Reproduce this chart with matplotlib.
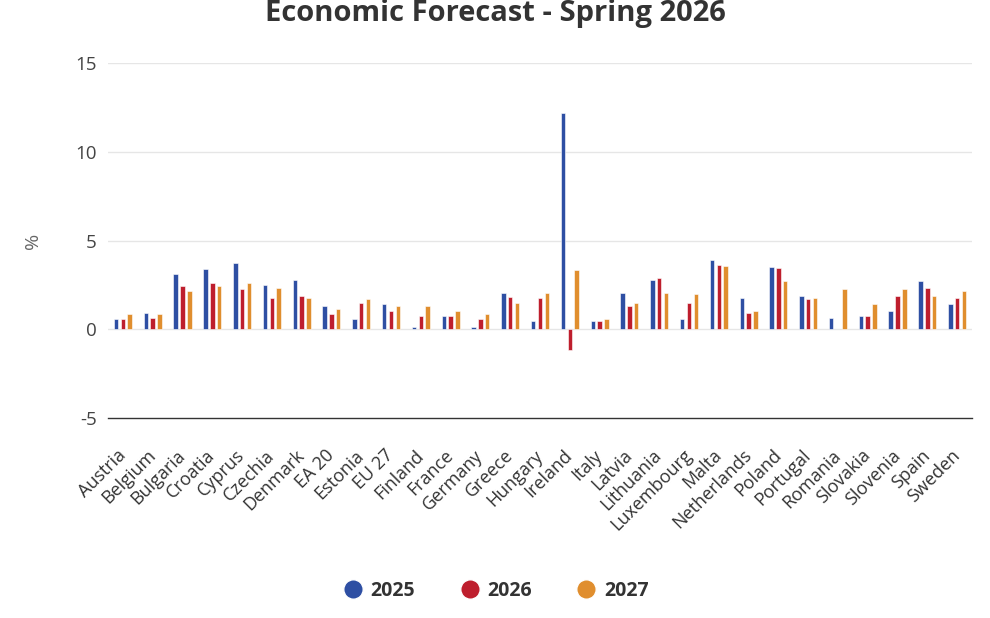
import numpy as np
import matplotlib
matplotlib.use("Agg")
import matplotlib.pyplot as plt
from matplotlib.lines import Line2D

plt.rcParams['font.family'] = ['Open Sans', 'DejaVu Sans']

countries = ["Austria", "Belgium", "Bulgaria", "Croatia", "Cyprus", "Czechia", "Denmark",
             "EA 20", "Estonia", "EU 27", "Finland", "France", "Germany", "Greece",
             "Hungary", "Ireland", "Italy", "Latvia", "Lithuania", "Luxembourg", "Malta",
             "Netherlands", "Poland", "Portugal", "Romania", "Slovakia", "Slovenia",
             "Spain", "Sweden"]
y2025 = [0.56, 0.94, 3.1, 3.37, 3.75, 2.52, 2.8,
         1.32, 0.56, 1.41, 0.1, 0.75, 0.1, 2.07,
         0.47, 12.17, 0.47, 2.06, 2.8, 0.56, 3.9,
         1.77, 3.53, 1.86, 0.66, 0.75, 1.03,
         2.71, 1.41]
y2026 = [0.56, 0.66, 2.43, 2.62, 2.24, 1.77, 1.86,
         0.85, 1.5, 1.03, 0.75, 0.75, 0.56, 1.79,
         1.78, -1.17, 0.47, 1.31, 2.89, 1.5, 3.64,
         0.94, 3.44, 1.69, np.nan, 0.75, 1.86,
         2.33, 1.77]
y2027 = [0.85, 0.85, 2.15, 2.43, 2.62, 2.33, 1.77,
         1.13, 1.69, 1.32, 1.32, 1.03, 0.85, 1.5,
         2.06, 3.36, 0.56, 1.5, 2.06, 1.97, 3.55,
         1.03, 2.71, 1.77, 2.24, 1.41, 2.24,
         1.86, 2.15]
series_names = ["2025", "2026", "2027"]
colors = ["#2E4FA3", "#BE1E2D", "#E08E2E"]
yticks = [-5, 0, 5, 10, 15]

fig = plt.figure(figsize=(9.9, 6.18), dpi=100)
ax = fig.add_axes([108/990, 1-418/618, (972-108)/990, (418-63)/618])

x = np.arange(len(countries))
offsets = [-0.228, 0.0, 0.228]
for vals, off, c in zip([y2025, y2026, y2027], offsets, colors):
    ax.bar(x + off, vals, width=0.15, color=c, edgecolor='white', linewidth=0.4, zorder=3)

ax.set_xlim(-0.5, len(countries) - 0.5)
ax.set_ylim(-5, 15)
ax.set_yticks(yticks)
ax.set_yticklabels([str(t) for t in yticks], fontsize=13.5, color='#444444')
for t in yticks:
    if t > -5:
        ax.axhline(t, color='#e6e6e6', linewidth=1, zorder=1)
ax.set_xticks(x)
ax.set_xticklabels(countries, rotation=45, ha='right', va='center', rotation_mode='anchor',
                   fontsize=13, color='#333333')
ax.tick_params(axis='y', length=0, pad=8)
ax.tick_params(axis='x', length=0, pad=25)
for s in ['top', 'right', 'left']:
    ax.spines[s].set_visible(False)
ax.spines['bottom'].set_color('#333333')
ax.spines['bottom'].set_linewidth(1)
ax.set_ylabel('%', fontsize=14, color='#666666', labelpad=24)

fig.text(0.5, 1 - 21/618, "Economic Forecast - Spring 2026", ha='center', va='baseline',
         fontsize=21, fontweight='bold', color='#333333')

handles = [Line2D([0], [0], marker='o', color='w', markerfacecolor=c, markersize=14,
                  linestyle='None') for c in colors]
leg = fig.legend(handles, series_names, loc='center', bbox_to_anchor=(0.5, 1-591/618),
                 ncol=3, frameon=False, handletextpad=0.3, columnspacing=2.2,
                 handlelength=1.2, prop={'weight': 'bold', 'size': 14})
for t in leg.get_texts():
    t.set_color('#333333')

fig.savefig('out.png', dpi=100)
